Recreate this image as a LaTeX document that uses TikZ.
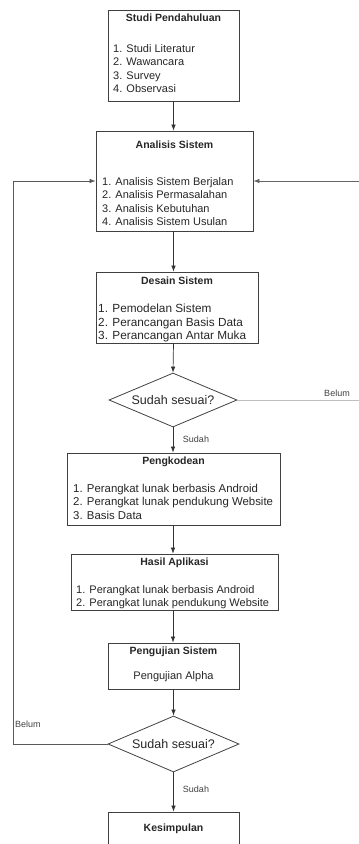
\documentclass[tikz,border=0pt]{standalone}
\usepackage{fontspec}
\setmainfont{Liberation Sans}
\usetikzlibrary{shapes.geometric,arrows.meta}
\begin{document}
\begin{tikzpicture}[x=1pt,y=-1pt,
  box/.style={draw=black!75,line width=0.8pt,rectangle,inner sep=0pt},
  dia/.style={draw=black!75,line width=0.8pt,diamond,inner sep=0pt,aspect=2.4,text=black!85,font=\fontsize{12.5}{14}\selectfont},
  ttl/.style={font=\fontsize{10.5}{12}\selectfont\bfseries,text=black!85,inner sep=0pt},
  lst/.style={font=\fontsize{11}{13.5}\selectfont,align=left,anchor=north west,inner sep=0pt,text=black!85},
  lbl/.style={font=\fontsize{9}{10}\selectfont,inner sep=0pt,text=black!75},
  arr/.style={draw=black!80,line width=0.7pt,-{Latex[length=6pt,width=4.5pt]}},
]
\useasboundingbox (0,0) rectangle (359,844);

% boxes
\node[box,minimum width=131pt,minimum height=91pt] (studi) at (173.5,55.5) {};
\node[ttl] (studiT) at (173.5,18) {Studi Pendahuluan};
\node[lst] (studiL) at (113,44) {1. Studi Literatur\\2. Wawancara\\3. Survey\\4. Observasi};

\node[box,minimum width=157pt,minimum height=100pt] (anal) at (174.5,181) {};
\node[ttl] (analT) at (174.5,145) {Analisis Sistem};
\node[lst] (analL) at (102,177) {1. Analisis Sistem Berjalan\\2. Analisis Permasalahan\\3. Analisis Kebutuhan\\4. Analisis Sistem Usulan};

\node[box,minimum width=162pt,minimum height=71pt] (desain) at (177,307.5) {};
\node[ttl] (desainT) at (177,281) {Desain Sistem};
\node[lst,font=\fontsize{11.8}{13.5}\selectfont] (desainL) at (98,304) {1. Pemodelan Sistem\\2. Perancangan Basis Data\\3. Perancangan Antar Muka};

\node[dia,minimum width=128pt,minimum height=54pt] (d1) at (173,400) {Sudah sesuai?};

\node[box,minimum width=213pt,minimum height=72pt] (kode) at (173.5,489) {};
\node[ttl] (kodeT) at (173.5,462) {Pengkodean};
\node[lst,font=\fontsize{11.4}{13.5}\selectfont] (kodeL) at (73,484) {1. Perangkat lunak berbasis Android\\2. Perangkat lunak pendukung Website\\3. Basis Data};

\node[box,minimum width=207pt,minimum height=56pt] (hasil) at (174.5,582) {};
\node[ttl] (hasilT) at (174.5,563) {Hasil Aplikasi};
\node[lst] (hasilL) at (76,585) {1. Perangkat lunak berbasis Android\\2. Perangkat lunak pendukung Website};

\node[box,minimum width=131pt,minimum height=46pt] (uji) at (173.5,666) {};
\node[ttl] (ujiT) at (173.5,652) {Pengujian Sistem};
\node[font=\fontsize{11}{13}\selectfont,text=black!85,inner sep=0pt] (ujiL) at (173.5,677) {Pengujian Alpha};

\node[dia,minimum width=131pt,minimum height=56pt] (d2) at (173.5,744) {Sudah sesuai?};

\node[box,minimum width=131pt,minimum height=46pt] (kes) at (173.5,835) {};
\node[ttl] (kesT) at (173.5,829) {Kesimpulan};

% vertical flow
\draw[arr] (studi.south) -- (studi.south |- anal.north);
\draw[arr] (anal.south -| studi.south) -- (studi.south |- desain.north);
\draw[arr] (desain.south -| studi.south) -- (d1.north);
\draw[arr] (d1.south) -- (d1.south |- kode.north);
\draw[arr] (kode.south -| d1.south) -- (d1.south |- hasil.north);
\draw[arr] (hasil.south -| d1.south) -- (d1.south |- uji.north);
\draw[arr] (uji.south -| d2.north) -- (d2.north);
\draw[arr] (d2.south) -- (d2.south |- kes.north);

\node[lbl] (s1) at (196,439) {Sudah};
\node[lbl] (s2) at (196,789) {Sudah};

% right feedback
\coordinate (r1) at (366,400);
\coordinate (r2) at (366,181);
\draw[draw=black!25,line width=0.7pt] (d1.east) -- (r1);
\draw[arr,draw=black!60] (r1) -- (r2) -- (anal.east);
\node[lbl] (b1) at (337,393) {Belum};

% left feedback
\coordinate (l1) at (13,744);
\coordinate (l2) at (13,181);
\draw[arr,draw=black!65] (d2.west) -- (l1) -- (l2) -- (anal.west);
\node[lbl,anchor=west] (b2) at (15,724) {Belum};
\end{tikzpicture}
\end{document}
